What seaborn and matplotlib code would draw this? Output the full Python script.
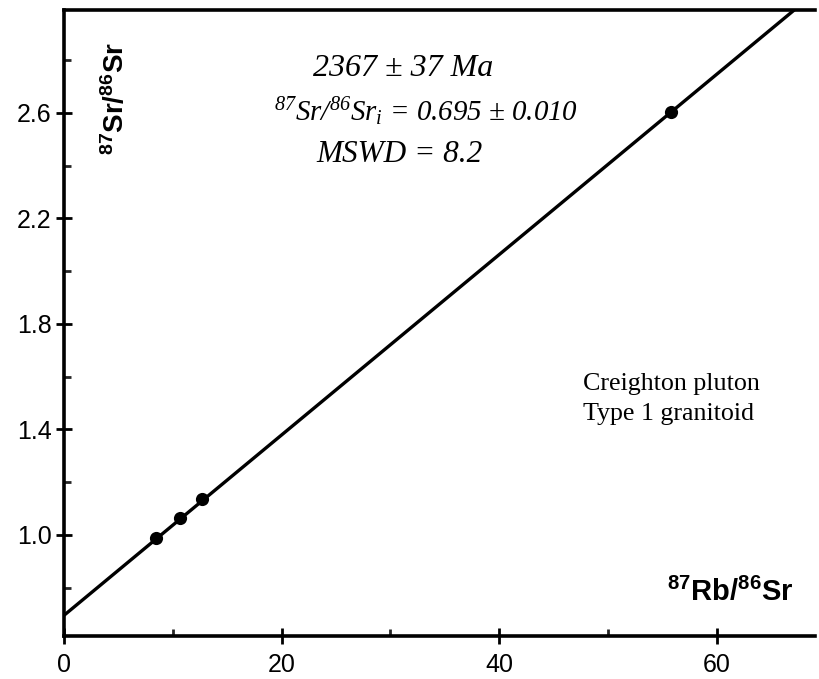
import matplotlib
matplotlib.use("Agg")
import matplotlib.pyplot as plt
import seaborn as sns
import pandas as pd
from matplotlib.ticker import MultipleLocator

# ---- data ----
rb_sr = [8.5, 10.7, 12.7, 55.8]          # 87Rb/86Sr
sr_sr = [0.988, 1.065, 1.135, 2.605]     # 87Sr/86Sr
intercept = 0.695                         # initial 87Sr/86Sr
slope = 0.0342                            # isochron slope (2367 Ma)
x_ticks = [0, 20, 40, 60]
y_ticks = [1.0, 1.4, 1.8, 2.2, 2.6]

sns.set_theme(style="ticks")
plt.rcParams["mathtext.default"] = "regular"
plt.rcParams["font.family"] = ["Liberation Sans", "DejaVu Sans"]
plt.rcParams["text.color"] = "black"

fig = plt.figure(figsize=(8.19, 6.79), dpi=100)
ax = fig.add_axes([0.078, 0.0633, 0.917, 0.922])

df = pd.DataFrame({"x": rb_sr, "y": sr_sr})
ax.axline((0, intercept), slope=slope, color="black", lw=2.4, zorder=2)
sns.scatterplot(data=df, x="x", y="y", ax=ax, color="black", s=90,
                edgecolor="black", linewidth=0, zorder=3, legend=False)

ax.set_xlim(0, 69)
ax.set_ylim(0.617, 2.99)
ax.set_xticks(x_ticks)
ax.set_yticks(y_ticks)
ax.set_xticklabels([str(v) for v in x_ticks])
ax.set_yticklabels([f"{v:.1f}" for v in y_ticks])
ax.xaxis.set_minor_locator(MultipleLocator(10))
ax.yaxis.set_minor_locator(MultipleLocator(0.2))
ax.tick_params(axis="both", which="major", direction="inout", length=12,
               width=2, labelsize=18, colors="black", pad=3)
ax.tick_params(axis="both", which="minor", direction="in", length=5, width=2)
ax.tick_params(axis="x", which="major", pad=6)
ax.set_xlabel("")
ax.set_ylabel("")

for side in ["left", "bottom", "top"]:
    ax.spines[side].set_visible(True)
    ax.spines[side].set_linewidth(2.6)
    ax.spines[side].set_color("black")
ax.spines["right"].set_visible(False)

# axis labels inside the plot
ax.text(0.0685, 0.858, r"$^{87}$Sr/$^{86}$Sr", transform=ax.transAxes,
        rotation=90, ha="center", va="center", fontsize=20,
        fontweight="bold", family="Liberation Sans", color="black")
ax.text(0.887, 0.069, r"$^{87}$Rb/$^{86}$Sr", transform=ax.transAxes,
        ha="center", va="center", fontsize=21,
        fontweight="bold", family="Liberation Sans", color="black")

serif = ["Liberation Serif", "DejaVu Serif"]
fig.text(403 / 819, 1 - 68 / 679, "2367 ± 37 Ma", ha="center", va="center",
         fontsize=23, style="italic", family=serif, color="black")
fig.text(426 / 819, 1 - 112 / 679, r"$^{87}$Sr/$^{86}$Sr$_{i}$ = 0.695 ± 0.010",
         ha="center", va="center", fontsize=20.8, style="italic", family=serif,
         color="black")
fig.text(400 / 819, 1 - 155 / 679, "MSWD = 8.2", ha="center", va="center",
         fontsize=22.5, style="italic", family=serif, color="black")

fig.text(583 / 819, 1 - 384 / 679, "Creighton pluton", ha="left", va="center",
         fontsize=18.7, family=serif, color="black")
fig.text(583 / 819, 1 - 414 / 679, "Type 1 granitoid", ha="left", va="center",
         fontsize=18.7, family=serif, color="black")

fig.savefig("out.png", dpi=100, facecolor="white")
